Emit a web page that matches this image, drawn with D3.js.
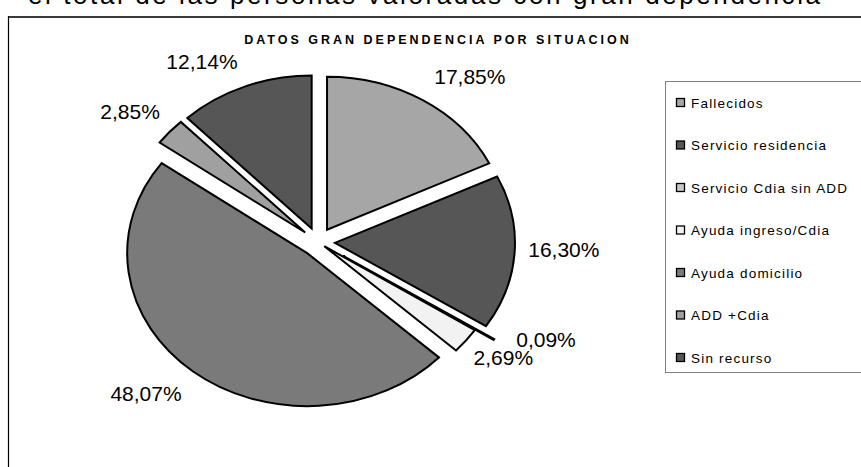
<!DOCTYPE html>
<html>
<head>
<meta charset="utf-8">
<script src="https://cdn.jsdelivr.net/npm/d3@7"></script>
<style>
  html, body { margin: 0; padding: 0; background: #fff; }
  svg { display: block; font-family: "Liberation Sans", Arial, sans-serif; }
</style>
</head>
<body>
<svg id="chart" width="861" height="467"></svg>
<script>
// ---- data ----
const categories = ["Fallecidos", "Servicio residencia", "Servicio Cdia sin ADD", "Ayuda ingreso/Cdia", "Ayuda domicilio", "ADD +Cdia", "Sin recurso"];
const values = [17.85, 16.30, 0.09, 2.69, 48.07, 2.85, 12.14];
const valueLabels = ["17,85%", "16,30%", "0,09%", "2,69%", "48,07%", "2,85%", "12,14%"];
const titleText = "DATOS GRAN DEPENDENCIA POR SITUACION";
const headerText = "el total de las personas valoradas con gran dependencia";

// ---- style / layout config ----
const colors = ["#a6a6a6", "#565656", "#c8c8c8", "#f2f2f2", "#7a7a7a", "#a0a0a0", "#565656"];
const explode = [17, 17, 30, 8, 17, 17, 17];
const labelShiftDeg = [5.8, -1.6, -6.5, -1.8, 4.4, -1.8, -6.8];
const labelRadius = [247, 246, 255, 230, 248, 243, 242];

const svg = d3.select("#chart");

// clipped header text at very top
svg.append("text")
  .attr("x", 28).attr("y", 4)
  .attr("font-size", 26)
  .attr("textLength", 792)
  .attr("lengthAdjust", "spacing")
  .attr("fill", "#000")
  .text(headerText);

// outer frame (extends beyond the window)
svg.append("line").attr("x1", 8).attr("y1", 17).attr("x2", 870).attr("y2", 17)
  .attr("stroke", "#3a3a3a").attr("stroke-width", 2);
svg.append("line").attr("x1", 8.5).attr("y1", 16).attr("x2", 8.5).attr("y2", 480)
  .attr("stroke", "#000").attr("stroke-width", 1.2);

// title
svg.append("text")
  .attr("x", 438).attr("y", 44)
  .attr("text-anchor", "middle")
  .attr("font-size", 12.5).attr("font-weight", "bold")
  .attr("letter-spacing", 3)
  .text(titleText);

// pie
const cx = 318, cy = 242, R = 180, ky = 0.85;
const pie = d3.pie().sort(null).value(d => d).startAngle(0).endAngle(2 * Math.PI);
const arcs = pie(values);
const arc = d3.arc().innerRadius(0).outerRadius(R);

const g = svg.append("g").attr("transform", `translate(${cx},${cy}) scale(1,${ky})`);
g.selectAll("path").data(arcs).enter().append("path")
  .attr("d", arc)
  .attr("transform", (d, i) => {
    const m = (d.startAngle + d.endAngle) / 2;
    return `translate(${explode[i] * Math.sin(m)},${-explode[i] * Math.cos(m)})`;
  })
  .attr("fill", (d, i) => colors[i])
  .attr("stroke", "#000")
  .attr("stroke-width", 2)
  .attr("stroke-linejoin", "miter")
  .attr("vector-effect", "non-scaling-stroke");

// value labels
svg.append("g").selectAll("text").data(arcs).enter().append("text")
  .attr("x", (d, i) => {
    const m = (d.startAngle + d.endAngle) / 2 + labelShiftDeg[i] * Math.PI / 180;
    return cx + labelRadius[i] * Math.sin(m);
  })
  .attr("y", (d, i) => {
    const m = (d.startAngle + d.endAngle) / 2 + labelShiftDeg[i] * Math.PI / 180;
    return cy - labelRadius[i] * Math.cos(m) * ky;
  })
  .attr("dy", "0.36em")
  .attr("text-anchor", "middle")
  .attr("font-size", 21)
  .attr("fill", "#000")
  .text((d, i) => valueLabels[i]);

// legend
const lg = svg.append("g");
lg.append("rect").attr("x", 665.5).attr("y", 81.5).attr("width", 240).attr("height", 291)
  .attr("fill", "#fff").attr("stroke", "#808080").attr("stroke-width", 1);
const ly = d3.scalePoint().domain(categories).range([103, 358]);
const items = lg.selectAll("g.item").data(categories).enter().append("g")
  .attr("transform", d => `translate(0,${ly(d)})`);
items.append("rect").attr("x", 676.5).attr("y", -4.5).attr("width", 8).attr("height", 8)
  .attr("fill", (d, i) => colors[i]).attr("stroke", "#000").attr("stroke-width", 1.3);
items.append("text").attr("x", 691).attr("y", 0).attr("dy", "0.36em")
  .attr("font-size", 13.5).attr("letter-spacing", 1.2)
  .text(d => d);
</script>
</body>
</html>
